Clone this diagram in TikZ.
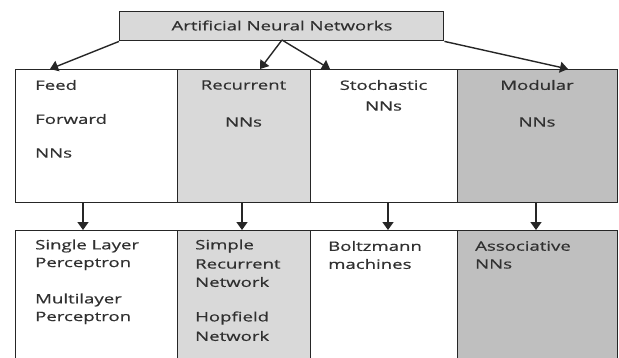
\documentclass[tikz,border=0pt]{standalone}
\usepackage{fontspec}
\setmainfont{Open Sans}[FakeStretch=1.43,FakeBold=0.6]
\usetikzlibrary{arrows.meta}
\definecolor{lightbox}{HTML}{D9D9D9}
\definecolor{darkbox}{HTML}{BFBFBF}
\definecolor{edge}{HTML}{262626}
\definecolor{txt}{HTML}{303030}
\tikzset{
  box/.style={draw=edge, line width=1.4pt, rectangle, inner sep=0pt, anchor=north west},
  lbl/.style={text=txt, font=\fontsize{13}{18}\selectfont, inner sep=0pt},
  llbl/.style={lbl, anchor=west, align=left},
  clbl/.style={lbl, anchor=center, align=center},
  arr/.style={draw=edge, line width=1.4pt, -{Triangle[length=8pt,width=11pt]}},
}
\begin{document}
\begin{tikzpicture}[x=1pt, y=-1pt]
\useasboundingbox (0,0) rectangle (619,357);
% top box
\node[box, fill=lightbox, minimum width=324pt, minimum height=29pt] (top) at (119,11) {};
\node[lbl] (toptxt) at (282,25.5) {Artificial Neural Networks};
% row 1
\node[box, fill=white, minimum width=162pt, minimum height=133pt] (r1a) at (15,69) {};
\node[box, fill=lightbox, minimum width=133pt, minimum height=133pt] (r1b) at (177,69) {};
\node[box, fill=white, minimum width=147pt, minimum height=133pt] (r1c) at (310,69) {};
\node[box, fill=darkbox, minimum width=160pt, minimum height=133pt] (r1d) at (457,69) {};
% row 2
\node[box, fill=white, minimum width=162pt, minimum height=140pt] (r2a) at (15,230) {};
\node[box, fill=lightbox, minimum width=133pt, minimum height=140pt] (r2b) at (177,230) {};
\node[box, fill=white, minimum width=147pt, minimum height=140pt] (r2c) at (310,230) {};
\node[box, fill=darkbox, minimum width=160pt, minimum height=140pt] (r2d) at (457,230) {};
% row 1 labels
\node[llbl] (fa) at (35,85) {Feed};
\node[llbl] (fb) at (35,119) {Forward};
\node[llbl] (fc) at (35,153) {NNs};
\node[clbl] (ra) at (243.5,85) {Recurrent};
\node[clbl] (rb) at (243.5,122) {NNs};
\node[clbl] (sa) at (383.5,85) {Stochastic};
\node[clbl] (sb) at (383.5,106) {NNs};
\node[clbl] (ma) at (537,85) {Modular};
\node[clbl] (mb) at (537,122) {NNs};
% row 2 labels
\node[llbl] (pa) at (35,246) {Single Layer};
\node[llbl] (pb) at (35,264) {Perceptron};
\node[llbl] (pc) at (35,300) {Multilayer};
\node[llbl] (pd) at (35,318) {Perceptron};
\node[llbl] (qa) at (195,246) {Simple};
\node[llbl] (qb) at (195,264) {Recurrent};
\node[llbl] (qc) at (195,282) {Network};
\node[llbl] (qd) at (195,318) {Hopfield};
\node[llbl] (qe) at (195,336) {Network};
\node[llbl] (ba) at (328,246) {Boltzmann};
\node[llbl] (bb) at (328,264) {machines};
\node[llbl] (aa) at (475,246) {Associative};
\node[llbl] (ab) at (475,264) {NNs};
% connector points
\coordinate (tmid) at (282,40);
\coordinate (ta) at (50,69);
\coordinate (tb) at (260,69);
\coordinate (tc) at (330,69);
\coordinate (td) at (568,69);
\draw[arr] (top.south west) -- (ta);
\draw[arr] (tmid) -- (tb);
\draw[arr] (tmid) -- (tc);
\draw[arr] (top.south east) -- (td);
\draw[arr] (r1a.south -| 83,0) -- (r2a.north -| 83,0);
\draw[arr] (r1b.south -| 242,0) -- (r2b.north -| 242,0);
\draw[arr] (r1c.south -| 388,0) -- (r2c.north -| 388,0);
\draw[arr] (r1d.south -| 536,0) -- (r2d.north -| 536,0);
\end{tikzpicture}
\end{document}
